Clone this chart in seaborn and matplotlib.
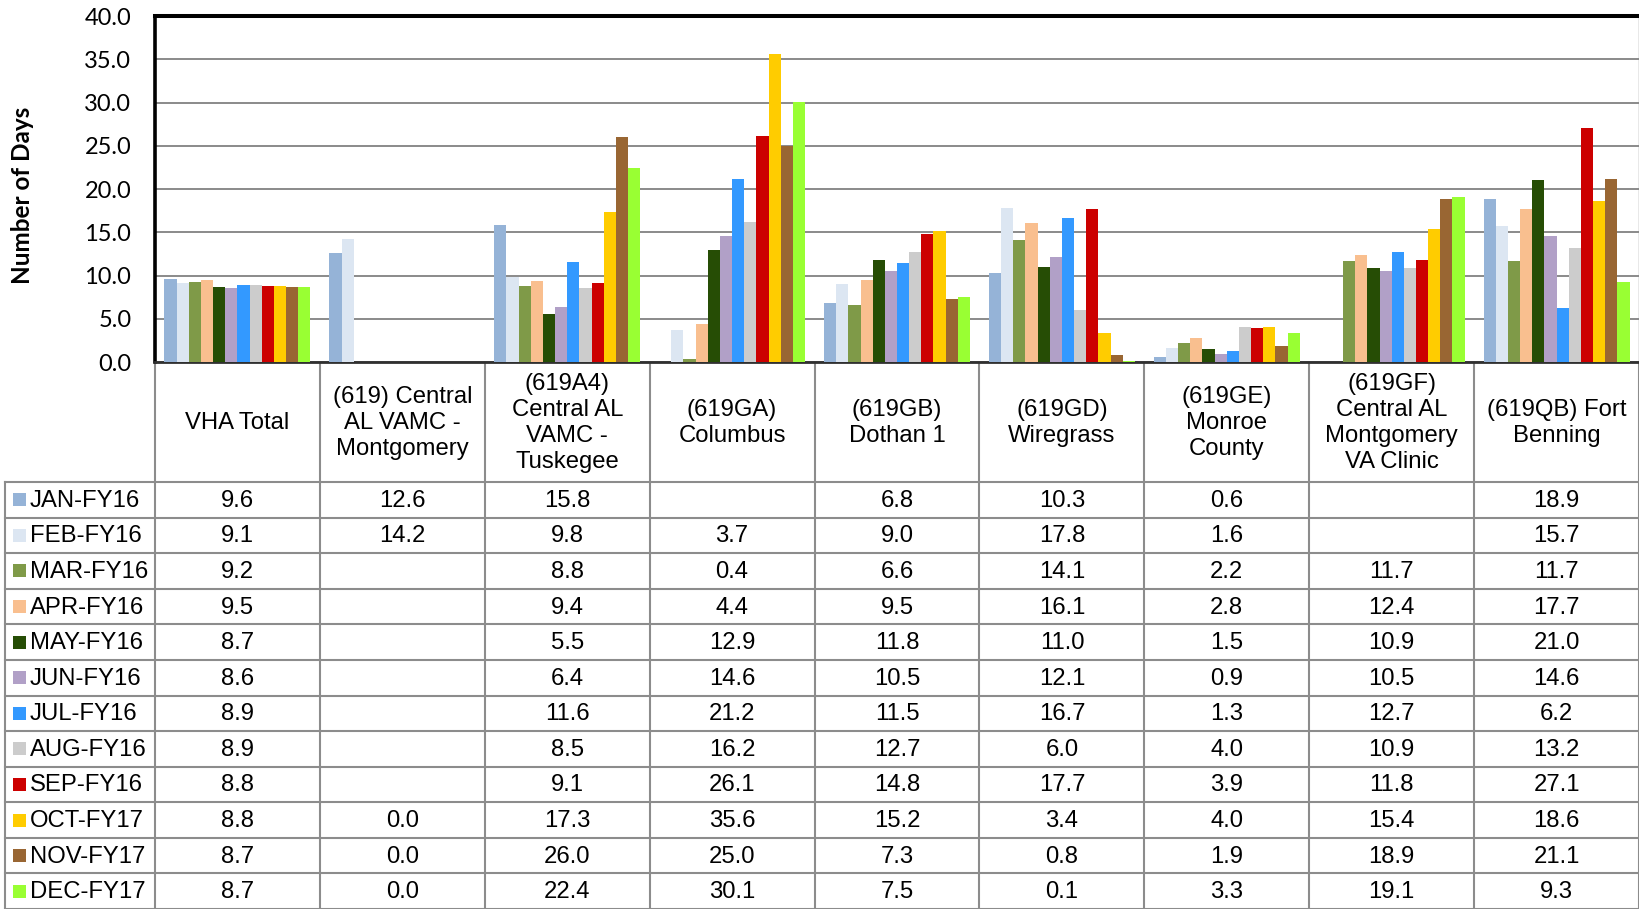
import numpy as np
import pandas as pd
import matplotlib
matplotlib.use("Agg")
import matplotlib.pyplot as plt
from matplotlib.patches import Rectangle
import seaborn as sns

nan = np.nan

months = ["JAN-FY16", "FEB-FY16", "MAR-FY16", "APR-FY16", "MAY-FY16", "JUN-FY16",
          "JUL-FY16", "AUG-FY16", "SEP-FY16", "OCT-FY17", "NOV-FY17", "DEC-FY17"]
month_colors = ["#95B3D7", "#DCE6F2", "#7F9A48", "#F9BF8F", "#264D05", "#B1A0C7",
                "#3399FF", "#CCCCCC", "#CC0000", "#FFCC00", "#996633", "#99FF33"]

facilities = ["VHA Total",
              "(619) Central\nAL VAMC -\nMontgomery",
              "(619A4)\nCentral AL\nVAMC -\nTuskegee",
              "(619GA)\nColumbus",
              "(619GB)\nDothan 1",
              "(619GD)\nWiregrass",
              "(619GE)\nMonroe\nCounty",
              "(619GF)\nCentral AL\nMontgomery\nVA Clinic",
              "(619QB) Fort\nBenning"]

vha_total = [9.6, 9.1, 9.2, 9.5, 8.7, 8.6, 8.9, 8.9, 8.8, 8.8, 8.7, 8.7]
montgomery = [12.6, 14.2, nan, nan, nan, nan, nan, nan, nan, 0.0, 0.0, 0.0]
tuskegee = [15.8, 9.8, 8.8, 9.4, 5.5, 6.4, 11.6, 8.5, 9.1, 17.3, 26.0, 22.4]
columbus = [nan, 3.7, 0.4, 4.4, 12.9, 14.6, 21.2, 16.2, 26.1, 35.6, 25.0, 30.1]
dothan = [6.8, 9.0, 6.6, 9.5, 11.8, 10.5, 11.5, 12.7, 14.8, 15.2, 7.3, 7.5]
wiregrass = [10.3, 17.8, 14.1, 16.1, 11.0, 12.1, 16.7, 6.0, 17.7, 3.4, 0.8, 0.1]
monroe = [0.6, 1.6, 2.2, 2.8, 1.5, 0.9, 1.3, 4.0, 3.9, 4.0, 1.9, 3.3]
gf_clinic = [nan, nan, 11.7, 12.4, 10.9, 10.5, 12.7, 10.9, 11.8, 15.4, 18.9, 19.1]
fort_benning = [18.9, 15.7, 11.7, 17.7, 21.0, 14.6, 6.2, 13.2, 27.1, 18.6, 21.1, 9.3]

series = [vha_total, montgomery, tuskegee, columbus, dothan, wiregrass,
          monroe, gf_clinic, fort_benning]

yticks = [0, 5, 10, 15, 20, 25, 30, 35, 40]

rows = []
for fac, vals in zip(facilities, series):
    for m, v in zip(months, vals):
        rows.append({"facility": fac, "month": m, "value": v})
df = pd.DataFrame(rows)
df_plot = df.dropna()

W, H = 1640, 909
fig = plt.figure(figsize=(W / 100, H / 100), dpi=100)
fig.patch.set_facecolor("white")

# overlay for table (pixel coordinates)
ov = fig.add_axes([0, 0, 1, 1])
ov.set_xlim(0, W)
ov.set_ylim(H, 0)
ov.axis("off")
ov.patch.set_alpha(0)

ax_left, ax_right, ax_top, ax_bot = 155, 1639, 16, 362
ax = fig.add_axes([ax_left / W, 1 - ax_bot / H, (ax_right - ax_left) / W, (ax_bot - ax_top) / H])

sns.barplot(data=df_plot, x="facility", y="value", hue="month",
            order=facilities, hue_order=months, palette=month_colors,
            width=0.885, dodge=True, errorbar=None, saturation=1,
            legend=False, ax=ax, zorder=3)
for p in ax.patches:
    p.set_linewidth(0)

ax.set_xlim(-0.5, len(facilities) - 0.5)
ax.set_ylim(0, 40)
ax.set_yticks(yticks)
ax.set_yticklabels([f"{t:.1f}" for t in yticks], fontfamily="Lato", fontsize=17)
ax.set_xticks([])
ax.set_xlabel("")
ax.set_ylabel("")
ax.tick_params(axis="y", length=0, pad=17)
ax.grid(axis="y", color="#8A8A8A", linewidth=1.4, zorder=0)
ax.set_axisbelow(True)
ax.spines["top"].set_linewidth(2.9)
ax.spines["top"].set_color("black")
ax.spines["left"].set_linewidth(2.6)
ax.spines["left"].set_color("black")
ax.spines["bottom"].set_linewidth(2.0)
ax.spines["bottom"].set_color("#303030")
ax.spines["right"].set_linewidth(1.0)
ax.spines["right"].set_color("#8A8A8A")

fig.text(23 / W, 1 - 195 / H, "Number of Days", rotation=90, ha="center", va="center",
         fontfamily="Lato", fontweight="bold", fontsize=17.5)

# ---- data table ----
line_c = "#8C8C8C"
lw = 1.5
col_w = (ax_right - ax_left) / len(facilities)
col_x = [ax_left + i * col_w for i in range(len(facilities) + 1)]
hdr_bot = 482
row_h = (H - hdr_bot) / 12.0
row_y = [hdr_bot + k * row_h for k in range(13)]
tfont = "Liberation Sans"
fs = 17.2

for i, x in enumerate(col_x):
    ov.plot([x, x], [ax_bot, H], color=line_c, lw=lw, solid_capstyle="butt")
ov.plot([5, 5], [hdr_bot, H], color=line_c, lw=lw)
for y in row_y:
    ov.plot([5, W], [y, y], color=line_c, lw=lw)

for i, fac in enumerate(facilities):
    cx = col_x[i] + col_w / 2
    ov.text(cx, (ax_bot + hdr_bot) / 2 + 1, fac, ha="center", va="center",
            fontfamily=tfont, fontsize=fs, linespacing=1.25, color="black")

for k, (m, c) in enumerate(zip(months, month_colors)):
    cy = row_y[k] + row_h / 2
    ov.add_patch(Rectangle((13, cy - 6.5), 13, 13, facecolor=c, edgecolor="none"))
    ov.text(30, cy + 1, m, ha="left", va="center", fontfamily=tfont, fontsize=fs, color="black")
    for i, vals in enumerate(series):
        v = vals[k]
        if not np.isnan(v):
            ov.text(col_x[i] + col_w / 2, cy + 1, f"{v:.1f}", ha="center", va="center",
                    fontfamily=tfont, fontsize=fs, color="black")

fig.savefig("out.png", dpi=100, facecolor="white")
